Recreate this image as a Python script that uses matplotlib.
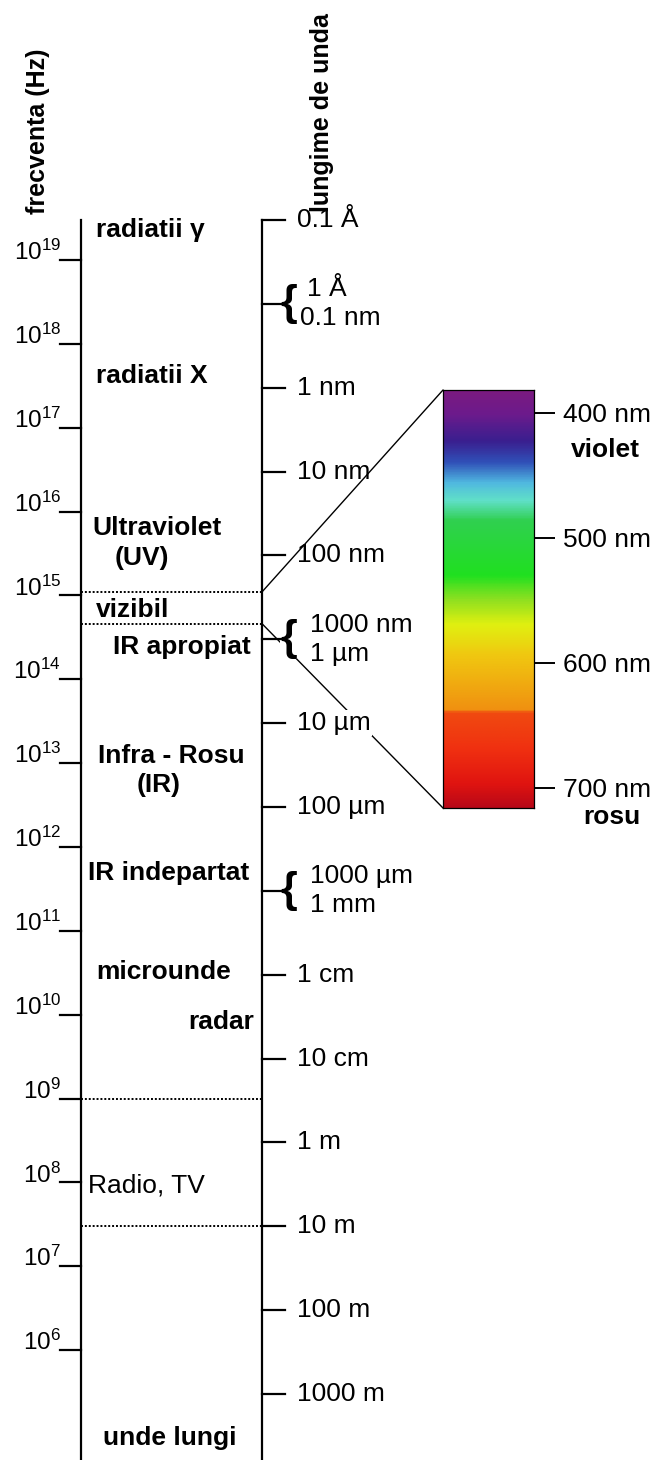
import numpy as np
import matplotlib.pyplot as plt
from matplotlib.colors import LinearSegmentedColormap
from matplotlib.patches import ConnectionPatch

plt.rcParams['font.family'] = ['Liberation Sans', 'DejaVu Sans']
plt.rcParams['mathtext.fontset'] = 'custom'
plt.rcParams['mathtext.rm'] = 'Liberation Sans'

c = 3e8  # viteza luminii (m/s)

# axa frecventelor (Hz)
freq_exp = [19, 18, 17, 16, 15, 14, 13, 12, 11, 10, 9, 8, 7, 6]

# axa lungimilor de unda (m)
wl_m = [1e-11, 1e-10, 1e-9, 1e-8, 1e-7, 1e-6, 1e-5, 1e-4, 1e-3, 1e-2, 1e-1, 1, 10, 100, 1000]
wl_labels = ['0.1 Å', ('1 Å', '0.1 nm'), '1 nm', '10 nm', '100 nm', ('1000 nm', '1 µm'),
             '10 µm', '100 µm', ('1000 µm', '1 mm'), '1 cm', '10 cm', '1 m', '10 m',
             '100 m', '1000 m']

# domeniile spectrului
band_names = ['radiatii γ', 'radiatii X', 'Ultraviolet', '(UV)', 'vizibil', 'IR apropiat',
              'Infra - Rosu', '(IR)', 'IR indepartat', 'microunde', 'radar', 'Radio, TV',
              'unde lungi']
band_freq = [2.3e19, 4.1e17, 6.4e15, 2.8e15, 6.7e14, 2.4e14, 1.2e13, 5.5e12, 4.9e11,
             3.2e10, 8.2e9, 9.3e7, 9e4]
band_x = [96, 96, 92, 115, 96, 113, 98, 137, 88, 96, 188, 88, 103]

# limitele punctate
border_freq = [1.1e15, 4.6e14, 1e9, c / 10]

# spectrul vizibil (nm)
vis_ticks = [400, 500, 600, 700]
vis_range = (381.6, 716)
spec_nm = [381.6, 400, 421.6, 439, 455, 469.6, 485.6, 529.6, 549.6, 569.6, 593.6,
           625.6, 637.6, 640.8, 669.6, 697.6, 716]
spec_col = ['#7b1a80', '#6c1b8c', '#3a1f8f', '#3050b8', '#50b8e0', '#60e0c8', '#30d050',
            '#20e020', '#90e020', '#e0f010', '#f0c810', '#f0a010', '#f09010', '#f04a10',
            '#f03010', '#e01410', '#b80818']

W, H = 659, 1460
fig = plt.figure(figsize=(W / 100, H / 100), dpi=100)
ax = fig.add_axes([0, 0, 1, 1])
ax.set_xlim(0, W)
ax.set_yscale('log')
f_bot, f_sup = 10 ** 4.69, 10 ** 22.10
ax.set_ylim(f_bot, f_sup)
ax.axis('off')

xf, xw = 81, 262
f_top = c / wl_m[0]
fs = 19
lw = 1.6
white = dict(facecolor='white', edgecolor='none', pad=0.5)

# cele doua axe verticale
ax.plot([xf, xf], [f_top, f_bot], color='k', lw=lw, zorder=4)
ax.plot([xw, xw], [f_top, f_bot], color='k', lw=lw, zorder=4)

for e in freq_exp:
    ax.plot([60, xf], [10.0 ** e, 10.0 ** e], color='k', lw=lw, zorder=4)
    ax.text(61, 10.0 ** e, r'$\mathregular{10^{%d}}$' % e, ha='right', va='baseline',
            fontsize=17.5)

brace_x = {1e-10: (307, 300), 1e-6: (310, 310), 1e-3: (310, 310)}
for w, lab in zip(wl_m, wl_labels):
    f = c / w
    if isinstance(lab, tuple):
        ax.plot([xw, 283], [f, f], color='k', lw=lw, zorder=4)
        ax.text(280, f, '{', ha='left', va='center', fontsize=31, fontweight='bold',
                zorder=3, bbox=dict(facecolor='white', edgecolor='none', pad=0))
        x1, x2 = brace_x[w]
        ax.annotate(lab[0], (x1, f), xytext=(0, 10.5), textcoords='offset points',
                    ha='left', va='center', fontsize=fs, zorder=3.5, bbox=white)
        ax.annotate(lab[1], (x2, f), xytext=(0, -10.5), textcoords='offset points',
                    ha='left', va='center', fontsize=fs, zorder=3.5, bbox=white)
    else:
        ax.plot([xw, 285], [f, f], color='k', lw=lw, zorder=4)
        ax.text(297, f, lab, ha='left', va='center', fontsize=fs, zorder=3, bbox=white)

for f in border_freq:
    ax.plot([xf, xw], [f, f], color='k', lw=1.4, ls=(0, (1, 1)), zorder=2)

for name, f, x in zip(band_names, band_freq, band_x):
    ax.text(x, f, name, ha='left', va='center', fontsize=fs,
            fontweight='normal' if name == 'Radio, TV' else 'bold')

fig.text(38 / W, 1 - 131 / H, 'frecventa (Hz)', rotation=90, ha='center', va='center',
         fontsize=18, fontweight='bold')
fig.text(322 / W, 1 - 113 / H, 'lungime de unda', rotation=90, ha='center', va='center',
         fontsize=18, fontweight='bold')

# bara spectrului vizibil
bx0, bx1, by0, by1 = 443, 534, 390, 808
ax2 = fig.add_axes([bx0 / W, 1 - by1 / H, (bx1 - bx0) / W, (by1 - by0) / H])
lo, hi = vis_range
cmap = LinearSegmentedColormap.from_list(
    'vis', [((n - lo) / (hi - lo), col) for n, col in zip(spec_nm, spec_col)])
grad = np.linspace(lo, hi, 500).reshape(-1, 1)
ax2.imshow(grad, cmap=cmap, vmin=lo, vmax=hi, aspect='auto', extent=(0, 1, hi, lo),
           origin='upper')
ax2.set_xlim(0, 1)
ax2.set_ylim(hi, lo)
ax2.set_xticks([])
ax2.yaxis.tick_right()
ax2.set_yticks(vis_ticks)
ax2.set_yticklabels(['%d nm' % v for v in vis_ticks])
ax2.tick_params(axis='y', length=15, width=1.4, pad=6, labelsize=fs)
for s in ax2.spines.values():
    s.set_linewidth(0.9)
ax2.text(1.78, 429.6, 'violet', transform=ax2.get_yaxis_transform(), ha='center',
         va='center', fontsize=fs, fontweight='bold')
ax2.text(1.857, 723.2, 'rosu', transform=ax2.get_yaxis_transform(), ha='center',
         va='center', fontsize=fs, fontweight='bold', clip_on=False)

# liniile de legatura catre bara
con1 = ConnectionPatch(xyA=(xw, border_freq[0]), coordsA=ax.transData,
                       xyB=(0, lo), coordsB=ax2.transData, color='k', lw=1.0, zorder=5)
con2 = ConnectionPatch(xyA=(xw, border_freq[1]), coordsA=ax.transData,
                       xyB=(0, hi), coordsB=ax2.transData, color='k', lw=1.0, zorder=1)
ax.add_artist(con1)
ax.add_artist(con2)

fig.savefig('out.png', dpi=100, facecolor='white')
